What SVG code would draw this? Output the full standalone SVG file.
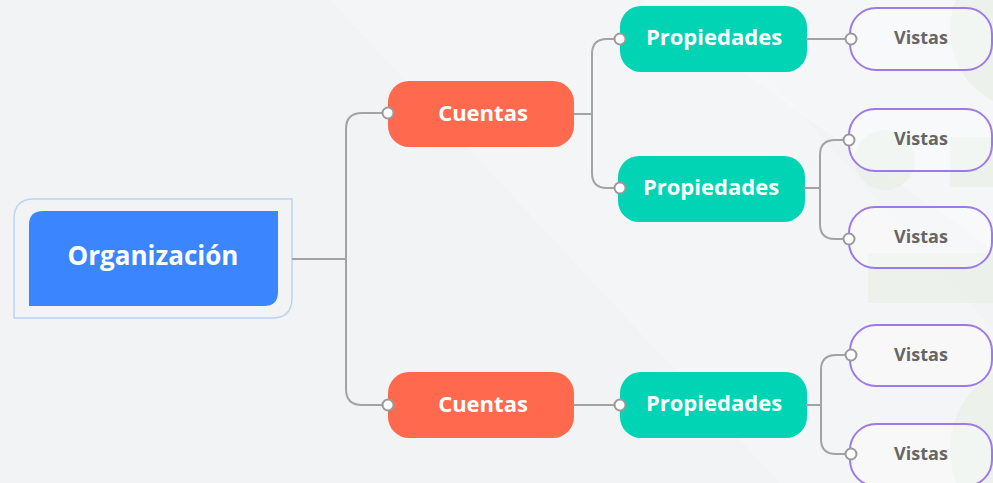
<svg xmlns="http://www.w3.org/2000/svg" width="993" height="483" viewBox="0 0 993 483">
  <defs>
    <style>
      .bg { fill: #f2f3f5; }
      .band { fill: #f8f9fa; }
      .deco { fill: #e6efe4; opacity: 0.6; }
      .link { fill: none; stroke: #a3a3a3; stroke-width: 2; }
      .dot { fill: #ffffff; stroke: #9a9a9a; stroke-width: 2; }
      .root-frame { fill: none; stroke: #bcd4f6; stroke-width: 1.5; }
      .root { fill: #3b86ff; }
      .acct { fill: #ff6a4f; }
      .prop { fill: #00d4b5; }
      .view { fill: #ffffff; fill-opacity: 0.35; stroke: #9d7ae8; stroke-width: 2; }
      .t { font-family: "Open Sans", "Noto Sans", sans-serif; font-weight: 700; text-anchor: middle; dominant-baseline: central; }
      .t-root { fill: #ffffff; font-size: 26px; }
      .t-node { fill: #ffffff; font-size: 22px; }
      .t-view { fill: #666666; font-size: 18px; }
    </style>
  </defs>

  <!-- background -->
  <rect class="bg" x="0" y="0" width="993" height="483"/>
  <path class="band" d="M330 0 L700 0 L993 330 L993 483 L780 483 Z" opacity="0.35"/>
  <path class="band" d="M640 0 L993 0 L993 250 Z" opacity="0.5"/>
  <circle class="deco" cx="885" cy="160" r="30"/>
  <rect class="deco" x="950" y="137" width="43" height="50"/>
  <rect class="deco" x="868" y="253" width="125" height="50"/>
  <circle class="deco" cx="1030" cy="30" r="80"/>
  <circle class="deco" cx="1040" cy="450" r="90"/>

  <!-- root -->
  <g id="organizacion">
    <path class="root-frame" d="M34 199 H292 V298 Q292 318 272 318 H14 V219 Q14 199 34 199 Z"/>
    <path class="root" d="M43 211 H278 V292 Q278 306 264 306 H29 V225 Q29 211 43 211 Z"/>
    <text class="t t-root" x="153" y="255">Organización</text>
  </g>

  <!-- accounts -->
  <g id="cuentas-1">
    <rect class="acct" x="388" y="81" width="186" height="66" rx="21"/>
    <text class="t t-node" x="483" y="112">Cuentas</text>
  </g>
  <g id="cuentas-2">
    <rect class="acct" x="388" y="372" width="186" height="66" rx="21"/>
    <text class="t t-node" x="483" y="403">Cuentas</text>
  </g>

  <!-- properties -->
  <g id="propiedades-1">
    <rect class="prop" x="620" y="6" width="187" height="66" rx="21"/>
    <text class="t t-node" x="714" y="36">Propiedades</text>
  </g>
  <g id="propiedades-2">
    <rect class="prop" x="618" y="156" width="187" height="66" rx="21"/>
    <text class="t t-node" x="711" y="186">Propiedades</text>
  </g>
  <g id="propiedades-3">
    <rect class="prop" x="620" y="372" width="187" height="66" rx="21"/>
    <text class="t t-node" x="714" y="402">Propiedades</text>
  </g>

  <!-- views -->
  <g id="vistas-1">
    <rect class="view" x="850" y="8" width="142" height="62" rx="26"/>
    <text class="t t-view" x="921" y="37">Vistas</text>
  </g>
  <g id="vistas-2">
    <rect class="view" x="849" y="109" width="143" height="62" rx="26"/>
    <text class="t t-view" x="921" y="138">Vistas</text>
  </g>
  <g id="vistas-3">
    <rect class="view" x="849" y="207" width="143" height="61" rx="26"/>
    <text class="t t-view" x="921" y="236">Vistas</text>
  </g>
  <g id="vistas-4">
    <rect class="view" x="850" y="325" width="142" height="61" rx="26"/>
    <text class="t t-view" x="921" y="354">Vistas</text>
  </g>
  <g id="vistas-5">
    <rect class="view" x="850" y="424" width="142" height="62" rx="26"/>
    <text class="t t-view" x="921" y="453">Vistas</text>
  </g>

  <!-- connectors, drawn last so the end dots sit on the node edges -->
  <g id="connectors">
    <path class="link" d="M292 259 H346"/>
    <path class="link" d="M388 113 H362 Q346 113 346 129 V389 Q346 405 362 405 H388"/>
    <path class="link" d="M574 114 H592"/>
    <path class="link" d="M620 39 H607 Q592 39 592 54 V173 Q592 188 607 188 H620"/>
    <path class="link" d="M806 39 H851"/>
    <path class="link" d="M804 188 H820"/>
    <path class="link" d="M849 140 H835 Q820 140 820 155 V224 Q820 239 835 239 H849"/>
    <path class="link" d="M574 405 H620"/>
    <path class="link" d="M806 405 H821"/>
    <path class="link" d="M851 355 H836 Q821 355 821 370 V439 Q821 454 836 454 H851"/>
    <circle class="dot" cx="388" cy="113" r="5.5"/>
    <circle class="dot" cx="388" cy="405" r="5.5"/>
    <circle class="dot" cx="620" cy="39" r="5.5"/>
    <circle class="dot" cx="620" cy="188" r="5.5"/>
    <circle class="dot" cx="620" cy="405" r="5.5"/>
    <circle class="dot" cx="851" cy="39" r="5.5"/>
    <circle class="dot" cx="849" cy="140" r="5.5"/>
    <circle class="dot" cx="849" cy="239" r="5.5"/>
    <circle class="dot" cx="851" cy="355" r="5.5"/>
    <circle class="dot" cx="851" cy="454" r="5.5"/>
  </g>
</svg>
